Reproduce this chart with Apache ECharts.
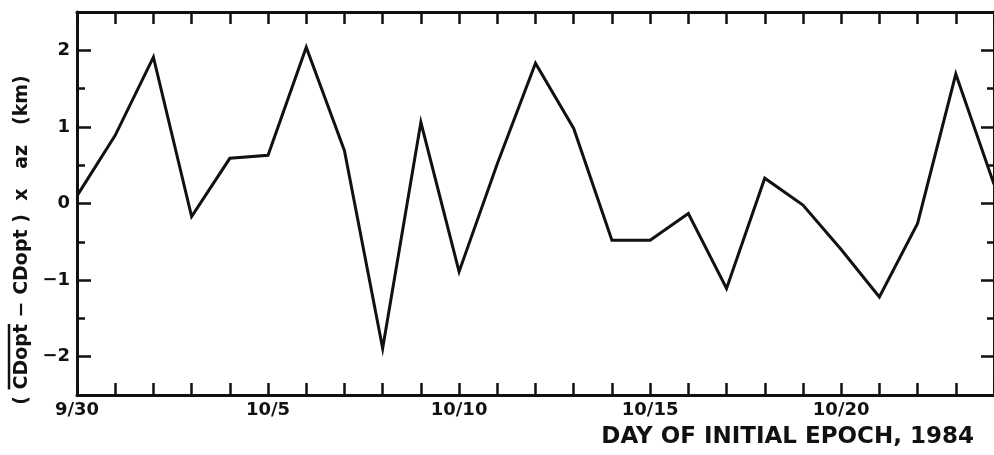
<!DOCTYPE html>
<html>
<head>
<meta charset="utf-8">
<script src="https://cdn.jsdelivr.net/npm/echarts@6/dist/echarts.min.js"></script>
<style>
html,body{margin:0;padding:0;background:#fff;}
#c{width:994px;height:455px;}
</style>
</head>
<body>
<div id="c"></div>
<script>
// Day of initial epoch (9/30 .. 10/24, 1984)
const days = ['9/30','10/1','10/2','10/3','10/4','10/5','10/6','10/7','10/8','10/9','10/10',
  '10/11','10/12','10/13','10/14','10/15','10/16','10/17','10/18','10/19','10/20',
  '10/21','10/22','10/23','10/24'];
// (CDopt_mean - CDopt) x az  (km)
const values = [0.10, 0.89, 1.91, -0.17, 0.59, 0.63, 2.04, 0.69, -1.89, 1.06, -0.89,
  0.52, 1.83, 0.98, -0.48, -0.48, -0.13, -1.11, 0.33, -0.02, -0.60,
  -1.22, -0.26, 1.69, 0.25];
const xLabelDays = ['9/30','10/5','10/10','10/15','10/20'];
const yTickValues = [-2, -1, 0, 1, 2];
const yTitlePre = '( ';
const yTitleOver = 'CDopt';
const yTitleRest = ' \u2212 CDopt )  x   az   (km)';
const xTitle = 'DAY OF INITIAL EPOCH, 1984';

const ink = '#111';
const font = 'DejaVu Sans';
const titleFont = 'bold 19px "DejaVu Sans"';
const chart = echarts.init(document.getElementById('c'), null, {renderer: 'canvas'});

// measure title pieces to place the overline above "CDopt"
const mctx = document.createElement('canvas').getContext('2d');
mctx.font = titleFont;
const wAll = mctx.measureText(yTitlePre + yTitleOver + yTitleRest).width;
const wPre = mctx.measureText(yTitlePre).width;
const wOver = mctx.measureText(yTitleOver).width;
const ox0 = -wAll / 2 + wPre;
const ox1 = ox0 + wOver;

const baseY = {type: 'value', min: -2.5, max: 2.5, splitLine: {show: false}};
const xAxisBase = {
  type: 'category', data: days, boundaryGap: false,
  axisLine: {show: true, onZero: false, lineStyle: {color: ink, width: 3}},
  axisTick: {show: true, inside: true, length: 12, interval: 0, lineStyle: {color: ink, width: 2.5}},
  splitLine: {show: false}
};

chart.setOption({
  animation: false,
  backgroundColor: '#fff',
  grid: {left: 77, top: 12, width: 920, height: 383, containLabel: false},
  xAxis: [
    Object.assign({}, xAxisBase, {
      position: 'bottom',
      axisLabel: {
        show: true, margin: 6, color: ink, fontFamily: font, fontWeight: 'bold', fontSize: 18,
        interval: (i, v) => xLabelDays.indexOf(v) >= 0
      }
    }),
    Object.assign({}, xAxisBase, {
      position: 'top',
      axisLabel: {show: false}
    })
  ],
  yAxis: [
    Object.assign({}, baseY, {
      position: 'left',
      axisLine: {show: true, onZero: false, lineStyle: {color: ink, width: 3}},
      axisTick: {show: true, inside: true, length: 14, customValues: yTickValues, lineStyle: {color: ink, width: 2.5}},
      axisLabel: {
        show: true, customValues: yTickValues, margin: 7, color: ink, fontFamily: font, fontWeight: 'bold', fontSize: 18,
        formatter: v => (v < 0 ? '\u2212' + Math.abs(v) : String(v))
      }
    }),
    Object.assign({}, baseY, {
      position: 'left', interval: 0.5,
      axisLine: {show: false},
      axisTick: {show: true, inside: true, length: 8, lineStyle: {color: ink, width: 2.5}},
      axisLabel: {show: false}
    }),
    Object.assign({}, baseY, {
      position: 'right',
      axisLine: {show: true, onZero: false, lineStyle: {color: ink, width: 3}},
      axisTick: {show: true, inside: true, length: 13, customValues: yTickValues, lineStyle: {color: ink, width: 2.5}},
      axisLabel: {show: false}
    }),
    Object.assign({}, baseY, {
      position: 'right', interval: 0.5,
      axisLine: {show: false},
      axisTick: {show: true, inside: true, length: 7, lineStyle: {color: ink, width: 2.5}},
      axisLabel: {show: false}
    })
  ],
  series: [{
    type: 'line', data: values, xAxisIndex: 0, yAxisIndex: 0,
    symbol: 'none', smooth: false,
    lineStyle: {color: ink, width: 3, join: 'miter', miterLimit: 6}
  }],
  graphic: [
    {
      type: 'group', x: 22, y: 240, rotation: Math.PI / 2,
      children: [
        {
          type: 'text', x: 0, y: 0,
          style: {text: yTitlePre + yTitleOver + yTitleRest, fill: ink, font: titleFont, align: 'center', verticalAlign: 'middle'}
        },
        {
          type: 'line', shape: {x1: ox0, y1: -13, x2: ox1, y2: -13},
          style: {stroke: ink, lineWidth: 2.5}
        }
      ]
    },
    {
      type: 'text', x: 974, y: 437,
      style: {text: xTitle, fill: ink, font: 'bold 23px "DejaVu Sans"', align: 'right', verticalAlign: 'middle'}
    }
  ]
});
</script>
</body>
</html>
